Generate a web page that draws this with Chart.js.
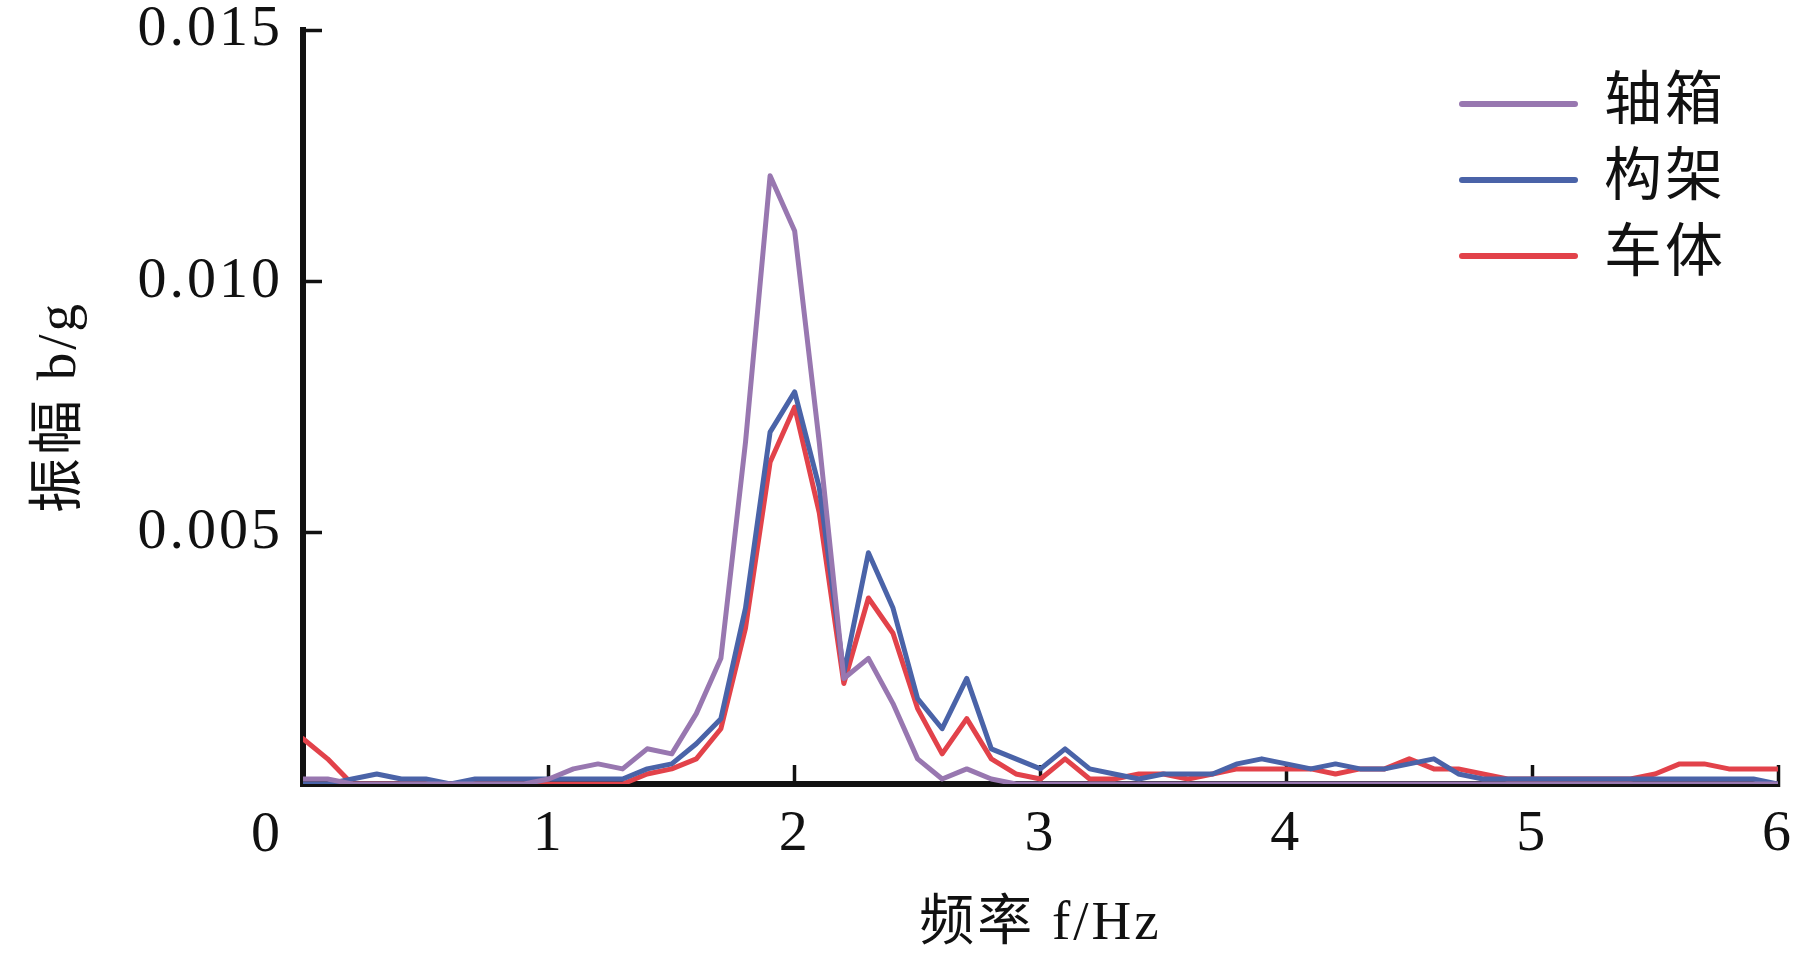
<!DOCTYPE html>
<html>
<head>
<meta charset="utf-8">
<script src="https://cdn.jsdelivr.net/npm/chart.js@4/dist/chart.umd.min.js"></script>
<style>
  html, body { margin: 0; padding: 0; background: #fff; }
  #wrap { width: 1819px; height: 969px; }
  canvas { display: block; }
</style>
</head>
<body>
<div id="wrap"><canvas id="c" width="1819" height="969"></canvas></div>
<script>
// ---- data ----
const frequency = [0.0, 0.1, 0.2, 0.3, 0.4, 0.5, 0.6, 0.7, 0.8, 0.9,
  1.0, 1.1, 1.2, 1.3, 1.4, 1.5, 1.6, 1.7, 1.8, 1.9,
  2.0, 2.1, 2.2, 2.3, 2.4, 2.5, 2.6, 2.7, 2.8, 2.9,
  3.0, 3.1, 3.2, 3.3, 3.4, 3.5, 3.6, 3.7, 3.8, 3.9,
  4.0, 4.1, 4.2, 4.3, 4.4, 4.5, 4.6, 4.7, 4.8, 4.9,
  5.0, 5.1, 5.2, 5.3, 5.4, 5.5, 5.6, 5.7, 5.8, 5.9, 6.0];

const seriesNames = ['轴箱', '构架', '车体'];

const axleBox = [0.0001, 0.0001, 0, 0, 0, 0, 0, 0, 0, 0,
  0.0001, 0.0003, 0.0004, 0.0003, 0.0007, 0.0006, 0.0014, 0.0025, 0.0068, 0.0121,
  0.0110, 0.0068, 0.0021, 0.0025, 0.0016, 0.0005, 0.0001, 0.0003, 0.0001, 0,
  0, 0, 0, 0, 0, 0, 0, 0, 0, 0,
  0, 0, 0, 0, 0, 0, 0, 0, 0, 0,
  0, 0, 0, 0, 0, 0, 0, 0, 0, 0, 0];

const bogie = [0, 0, 0.0001, 0.0002, 0.0001, 0.0001, 0, 0.0001, 0.0001, 0.0001,
  0.0001, 0.0001, 0.0001, 0.0001, 0.0003, 0.0004, 0.0008, 0.0013, 0.0035, 0.0070,
  0.0078, 0.0059, 0.0022, 0.0046, 0.0035, 0.0017, 0.0011, 0.0021, 0.0007, 0.0005,
  0.0003, 0.0007, 0.0003, 0.0002, 0.0001, 0.0002, 0.0002, 0.0002, 0.0004, 0.0005,
  0.0004, 0.0003, 0.0004, 0.0003, 0.0003, 0.0004, 0.0005, 0.0002, 0.0001, 0.0001,
  0.0001, 0.0001, 0.0001, 0.0001, 0.0001, 0.0001, 0.0001, 0.0001, 0.0001, 0.0001, 0];

const carBody = [0.0009, 0.0005, 0, 0, 0, 0, 0, 0, 0, 0,
  0, 0, 0, 0, 0.0002, 0.0003, 0.0005, 0.0011, 0.0031, 0.0064,
  0.0075, 0.0054, 0.0020, 0.0037, 0.0030, 0.0015, 0.0006, 0.0013, 0.0005, 0.0002,
  0.0001, 0.0005, 0.0001, 0.0001, 0.0002, 0.0002, 0.0001, 0.0002, 0.0003, 0.0003,
  0.0003, 0.0003, 0.0002, 0.0003, 0.0003, 0.0005, 0.0003, 0.0003, 0.0002, 0.0001,
  0.0001, 0.0001, 0.0001, 0.0001, 0.0001, 0.0002, 0.0004, 0.0004, 0.0003, 0.0003, 0.0003];

const xTickLabels = ['0', '1', '2', '3', '4', '5', '6'];
const yTickValues = [0, 0.005, 0.010, 0.015];
const yTickLabels = ['0', '0.005', '0.010', '0.015'];

const xTitle = '频率 f/Hz';
const yTitle = '振幅 b/g';

// ---- styles ----
const colors = ['#9877B0', '#4A63A8', '#E2424A'];
const serif = "'Liberation Serif', 'Noto Sans CJK SC', serif";
const ink = '#111111';

const toPoints = (vals) => frequency.map((f, i) => ({ x: f, y: vals[i] }));

const spacingPlugin = {
  id: 'spacing',
  beforeUpdate(chart) { chart.ctx.letterSpacing = '3px'; },
  beforeDraw(chart) { chart.ctx.letterSpacing = '3px'; },
  afterLayout(chart) {
    const lg = chart.legend;
    if (!lg) return;
    const w = lg.width, h = lg.height;
    lg.left = 1444; lg.right = 1444 + w;
    lg.top = 57; lg.bottom = 57 + h;
  }
};

const chart = new Chart(document.getElementById('c'), {
  type: 'line',
  data: {
    datasets: [
      { label: seriesNames[0], data: toPoints(axleBox), borderColor: colors[0], backgroundColor: colors[0] },
      { label: seriesNames[1], data: toPoints(bogie), borderColor: colors[1], backgroundColor: colors[1] },
      { label: seriesNames[2], data: toPoints(carBody), borderColor: colors[2], backgroundColor: colors[2] }
    ]
  },
  options: {
    responsive: false,
    animation: false,
    devicePixelRatio: 1,
    layout: { padding: { top: 30, right: 41, bottom: 0, left: 0 } },
    elements: {
      point: { radius: 0, hoverRadius: 0 },
      line: { borderWidth: 5, tension: 0, borderJoinStyle: 'round', borderCapStyle: 'round', fill: false }
    },
    plugins: {
      tooltip: { enabled: false },
      legend: {
        position: 'chartArea',
        align: 'start',
        labels: {
          usePointStyle: true,
          pointStyle: 'line',
          pointStyleWidth: 113,
          boxWidth: 113,
          padding: 18,
          color: ink,
          font: { family: serif, size: 58 },
          generateLabels: (ch) => Chart.defaults.plugins.legend.labels.generateLabels(ch)
            .map(l => Object.assign(l, { lineWidth: 6, lineCap: 'round' }))
        }
      }
    },
    scales: {
      x: {
        type: 'linear',
        min: 0, max: 6,
        afterFit: (s) => { s.height = 185; s.paddingLeft = 0; s.paddingRight = 0; },
        afterBuildTicks: (s) => { s.ticks = xTickLabels.map(t => ({ value: Number(t) })); },
        ticks: {
          stepSize: 1,
          autoSkip: false,
          maxRotation: 0,
          padding: 35,
          color: ink,
          font: { family: serif, size: 58 },
          callback: (v) => (v === 0 ? '' : xTickLabels[Math.round(v)])
        },
        grid: { drawOnChartArea: false, drawTicks: true, tickLength: -19, tickWidth: 3.5, tickColor: ink },
        border: { display: true, width: 6, color: ink },
        title: {
          display: true, text: xTitle, color: ink,
          font: { family: serif, size: 55 },
          padding: { top: 0, bottom: 11 }
        }
      },
      y: {
        type: 'linear',
        min: 0, max: 0.015,
        afterFit: (s) => { s.width = 303; s.paddingTop = 0; s.paddingBottom = 0; },
        afterBuildTicks: (s) => { s.ticks = yTickValues.map(v => ({ value: v })); },
        ticks: {
          autoSkip: false,
          padding: 39,
          color: ink,
          font: { family: serif, size: 58, lineHeight: 1.8 },
          callback: (v) => {
            const i = yTickValues.findIndex(t => Math.abs(t - v) < 1e-9);
            const lab = yTickLabels[i];
            return i === 0 ? ['', lab] : lab;
          }
        },
        grid: { drawOnChartArea: false, drawTicks: true, tickLength: -19, tickWidth: 3.5, tickColor: ink },
        border: { display: true, width: 6, color: ink },
        title: {
          display: true, text: yTitle, color: ink,
          font: { family: serif, size: 55 },
          padding: { top: 28, bottom: 0 }
        }
      }
    }
  },
  plugins: [spacingPlugin]
});
</script>
</body>
</html>
